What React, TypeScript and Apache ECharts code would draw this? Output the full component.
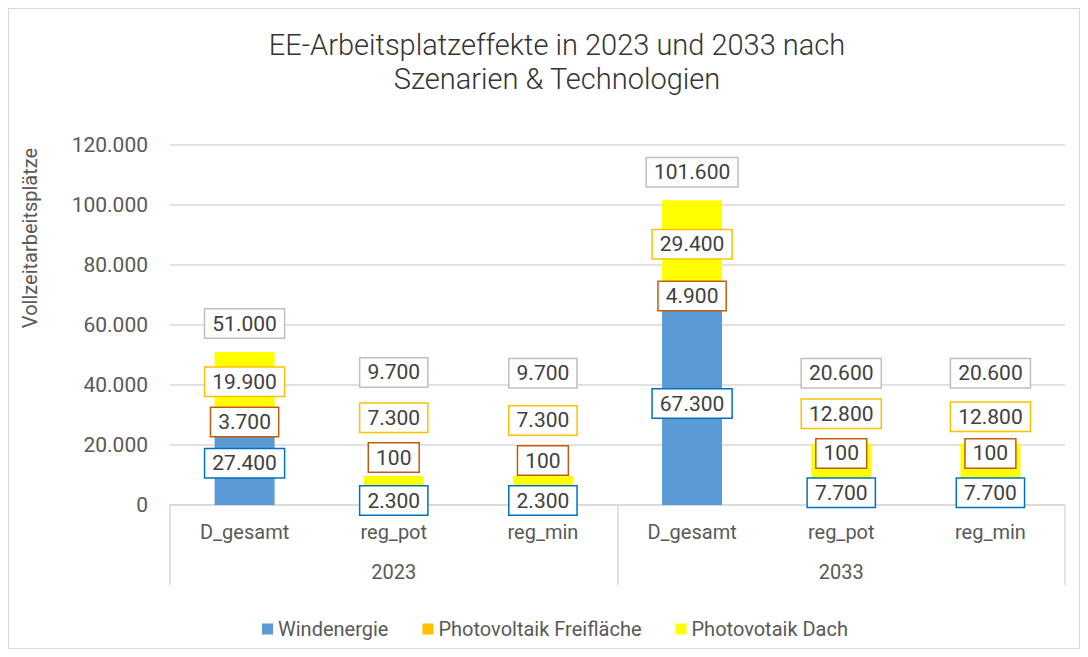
import React, { useEffect, useRef } from "react";
import * as echarts from "echarts";

const categories = ["D_gesamt", "reg_pot", "reg_min", "D_gesamt", "reg_pot", "reg_min"];
const years = ["2023", "2033"];
const seriesNames = ["Windenergie", "Photovoltaik Freifläche", "Photovotaik Dach"];
const wind = [27400, 2300, 2300, 67300, 7700, 7700];
const pvFrei = [3700, 100, 100, 4900, 100, 100];
const pvDach = [19900, 7300, 7300, 29400, 12800, 12800];
const total = [51000, 9700, 9700, 101600, 20600, 20600];
// label anchor heights (value units), as placed in the reference
const windLabelAt = [13900, 1500, 1500, 33800, 4100, 4100];
const freiLabelAt = [27700, 15800, 14800, 69700, 17200, 17200];
const dachLabelAt = [41100, 29100, 28200, 86900, 30400, 29400];
const totalLabelAt = [60500, 44200, 43900, 110900, 43900, 43900];

const FONT = "Roboto, 'Noto Sans', sans-serif";
const fmt = (n: number) => String(n).replace(/\B(?=(\d{3})+(?!\d))/g, ".");

function labelSeries(name: string, at: number[], values: number[], border: string) {
  return {
    name,
    type: "scatter",
    data: at,
    symbol: "rect",
    symbolSize: 0.1,
    itemStyle: { color: "rgba(0,0,0,0)", opacity: 1 },
    z: 10,
    silent: true,
    label: {
      show: true,
      position: "inside",
      formatter: (p: any) => fmt(values[p.dataIndex]),
      fontFamily: FONT,
      fontSize: 21,
      color: "#404040",
      opacity: 1,
      backgroundColor: "#ffffff",
      borderColor: border,
      borderWidth: 1.5,
      padding: [4, 7, 3, 7],
    },
  };
}

export default function App() {
  const ref = useRef<HTMLDivElement>(null);
  useEffect(() => {
    if (!ref.current) return;
    const chart = echarts.init(ref.current, null, { renderer: "svg" });
    chart.setOption({
      animation: false,
      textStyle: { fontFamily: FONT },
      title: {
        text: "EE-Arbeitsplatzeffekte in 2023 und 2033 nach\nSzenarien & Technologien",
        left: 543,
        top: 14,
        textAlign: "center",
        textStyle: { fontFamily: FONT, fontSize: 29, fontWeight: 300, color: "#333333", lineHeight: 34 },
      },
      graphic: [
        {
          type: "text",
          x: 21,
          y: 229,
          rotation: Math.PI / 2,
          style: {
            text: "Vollzeitarbeitsplätze",
            fontFamily: FONT,
            fontSize: 20,
            fill: "#595959",
            align: "center",
            verticalAlign: "middle",
          },
        },
      ],
      legend: {
        data: seriesNames,
        bottom: 4,
        left: 248,
        icon: "rect",
        itemWidth: 11,
        itemHeight: 11,
        itemGap: 34,
        textStyle: { fontFamily: FONT, fontSize: 20, color: "#595959" },
      },
      grid: { left: 161, right: 14, top: 136, bottom: 143 },
      xAxis: [
        {
          type: "category",
          data: categories,
          position: "bottom",
          axisLine: { show: true, lineStyle: { color: "#D9D9D9", width: 1.5 } },
          axisTick: { show: false },
          axisLabel: { margin: 17, fontFamily: FONT, fontSize: 20, color: "#595959", interval: 0 },
        },
        {
          type: "category",
          data: years,
          position: "bottom",
          axisLine: { show: false },
          axisTick: { show: true, length: 80, lineStyle: { color: "#D9D9D9", width: 1.5 } },
          axisLabel: { margin: 57, fontFamily: FONT, fontSize: 20, color: "#595959", interval: 0 },
        },
      ],
      yAxis: {
        type: "value",
        min: 0,
        max: 120000,
        interval: 20000,
        axisLine: { show: false },
        axisTick: { show: false },
        splitLine: { lineStyle: { color: "#D9D9D9", width: 1.5 } },
        axisLabel: {
          margin: 22,
          fontFamily: FONT,
          fontSize: 21,
          color: "#595959",
          formatter: (v: number) => fmt(v),
        },
      },
      series: [
        { name: seriesNames[0], type: "bar", stack: "s", data: wind, barWidth: 60, itemStyle: { color: "#5B9BD5" } },
        { name: seriesNames[1], type: "bar", stack: "s", data: pvFrei, barWidth: 60, itemStyle: { color: "#FFC000" } },
        { name: seriesNames[2], type: "bar", stack: "s", data: pvDach, barWidth: 60, itemStyle: { color: "#FFFF00" } },
        labelSeries("wl", windLabelAt, wind, "#0070C0"),
        labelSeries("fl", freiLabelAt, pvFrei, "#C55A11"),
        labelSeries("dl", dachLabelAt, pvDach, "#FFC000"),
        labelSeries("tl", totalLabelAt, total, "#BFBFBF"),
      ],
    });
    return () => chart.dispose();
  }, []);
  return (
    <div
      ref={ref}
      style={{ width: 1072, height: 641, border: "1px solid #D9D9D9", boxSizing: "border-box" }}
    />
  );
}
